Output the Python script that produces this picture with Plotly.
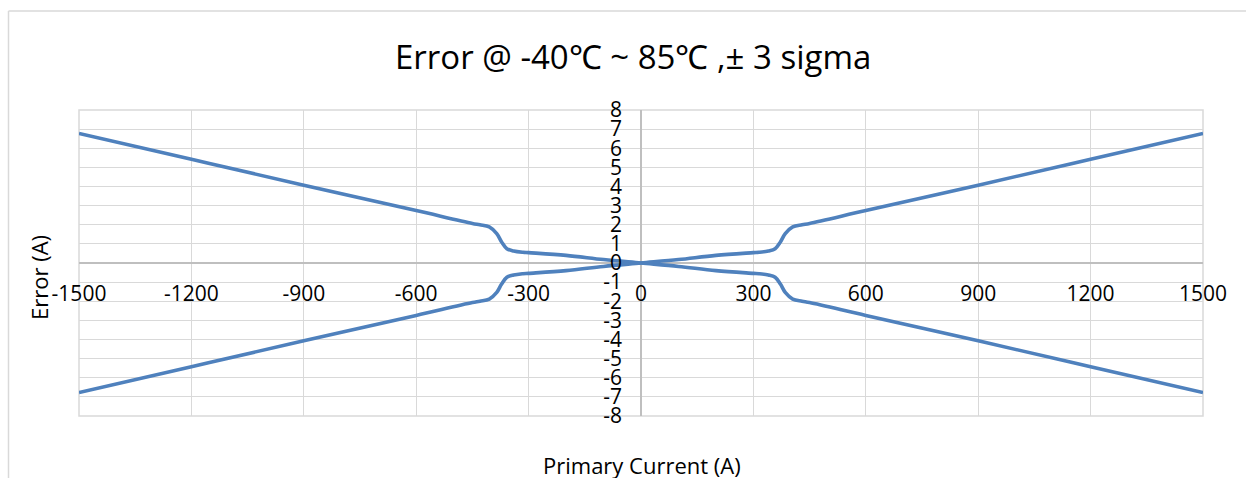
import plotly.graph_objects as go

# Primary current (A)
current = [-1500, -1200, -900, -600, -450, -430, -405, -385, -372, -358, -340, -315, -300, -200, -100,
           0, 100, 200, 300, 315, 340, 358, 372, 385, 405, 430, 450, 600, 900, 1200, 1500]
# Error (A), series running from top-left to bottom-right
error_down = [6.77, 5.42, 4.07, 2.74, 2.07, 2.00, 1.89, 1.54, 1.10, 0.75, 0.63, 0.56, 0.54, 0.40, 0.18,
              0.0, -0.18, -0.40, -0.54, -0.56, -0.63, -0.75, -1.10, -1.54, -1.89, -2.00, -2.07, -2.74, -4.07, -5.42, -6.77]
# Error (A), series running from bottom-left to top-right
error_up = [-6.77, -5.42, -4.07, -2.74, -2.07, -2.00, -1.89, -1.54, -1.10, -0.75, -0.63, -0.56, -0.54, -0.40, -0.18,
            0.0, 0.18, 0.40, 0.54, 0.56, 0.63, 0.75, 1.10, 1.54, 1.89, 2.00, 2.07, 2.74, 4.07, 5.42, 6.77]

x_ticks = [-1500, -1200, -900, -600, -300, 0, 300, 600, 900, 1200, 1500]
y_ticks = list(range(-8, 9))

title_text = "Error @ -40\u2103 ~ 85\u2103 ,\u00b1 3 sigma"
x_title = "Primary Current (A)"
y_title = "Error (A)"

FONT = "Open Sans"
LINE_COLOR = "#4f81bd"
GRID = "#d9d9d9"

fig = go.Figure()
for ys in (error_down, error_up):
    fig.add_trace(go.Scatter(x=current, y=ys, mode="lines",
                             line=dict(color=LINE_COLOR, width=3.6, shape="spline", smoothing=1),
                             showlegend=False, hoverinfo="skip"))

W, H = 1246, 478
ml, mr, mt, mb = 79, 43, 110, 62
pw, ph = W - ml - mr, H - mt - mb

def px_x(p):
    return (p - ml) / pw

def px_y(p):
    return (H - mb - p) / ph

fig.update_layout(
    width=W, height=H,
    margin=dict(l=ml, r=mr, t=mt, b=mb),
    paper_bgcolor="white", plot_bgcolor="white",
    font=dict(family=FONT, color="#000000"),
    showlegend=False,
    xaxis=dict(range=[-1500, 1500], tickvals=x_ticks, ticktext=[str(v) for v in x_ticks],
               showgrid=True, gridcolor=GRID, gridwidth=1,
               zeroline=True, zerolinecolor="#bfbfbf", zerolinewidth=1.5,
               anchor="free", position=0.5, showline=False, ticks="",
               tickfont=dict(family=FONT, size=21, color="#000"),
               ticklabelstandoff=16, automargin=False),
    yaxis=dict(range=[-8, 8], tickvals=y_ticks, ticktext=[str(v) for v in y_ticks],
               showgrid=True, gridcolor=GRID, gridwidth=1,
               zeroline=True, zerolinecolor="#bfbfbf", zerolinewidth=1.5,
               anchor="free", position=0.5, showline=False, ticks="",
               tickfont=dict(family=FONT, size=21, color="#000"),
               ticklabelstandoff=19, automargin=False),
    shapes=[
        dict(type="rect", xref="paper", yref="paper", x0=0, x1=1, y0=0, y1=1,
             line=dict(color=GRID, width=1.5), layer="below"),
        dict(type="line", xref="paper", yref="paper", x0=px_x(8.5), x1=px_x(8.5),
             y0=px_y(11), y1=px_y(500), line=dict(color=GRID, width=1.5)),
        dict(type="line", xref="paper", yref="paper", x0=px_x(8.5), x1=px_x(1260),
             y0=px_y(11), y1=px_y(11), line=dict(color=GRID, width=1.5)),
    ],
    annotations=[
        dict(text=title_text, xref="paper", yref="paper", x=px_x(632.5), y=px_y(57),
             xanchor="center", yanchor="middle", showarrow=False,
             font=dict(family=FONT, size=33, color="#000")),
        dict(text=x_title, xref="paper", yref="paper", x=px_x(642), y=px_y(465),
             xanchor="center", yanchor="middle", showarrow=False,
             font=dict(family=FONT, size=22, color="#000")),
        dict(text=y_title, xref="paper", yref="paper", x=px_x(39), y=px_y(277),
             xanchor="center", yanchor="middle", showarrow=False, textangle=-90,
             font=dict(family=FONT, size=22, color="#000")),
    ],
)

fig.write_html("out.html", config={"displayModeBar": False},
               post_script="document.body.style.margin='0';document.body.style.overflow='hidden';")
